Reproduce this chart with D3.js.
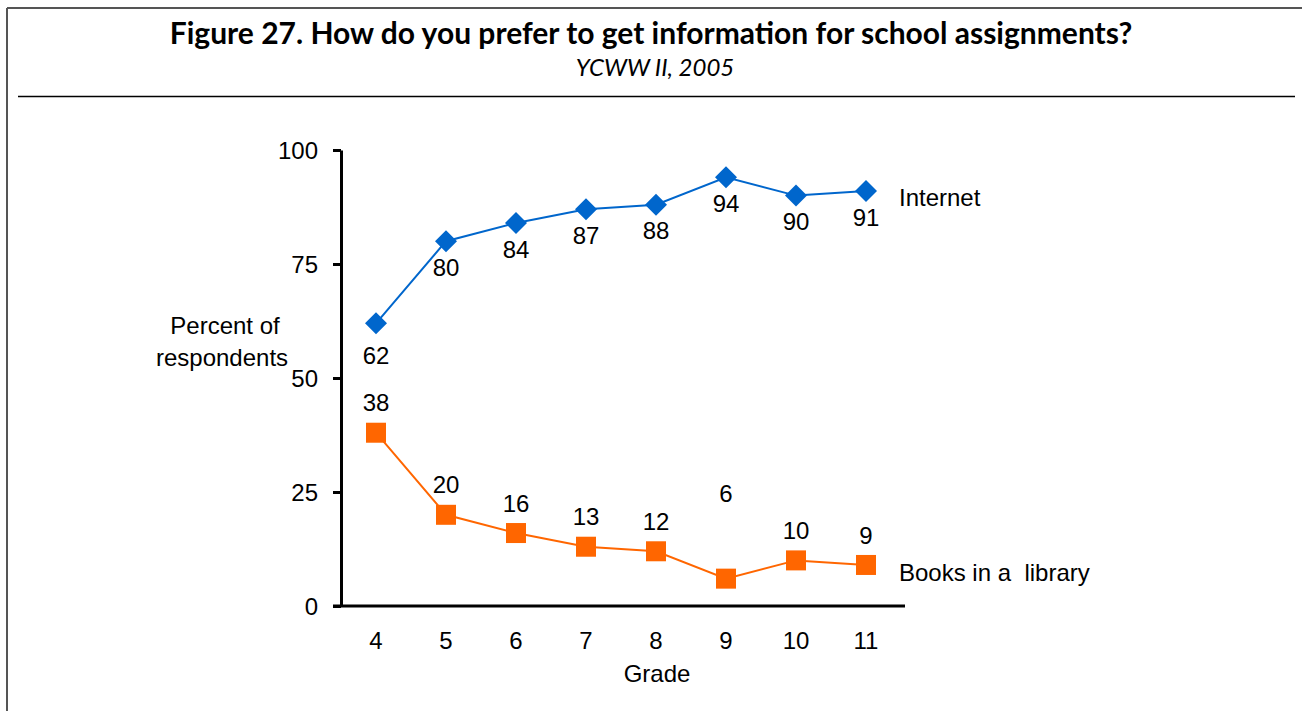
<!DOCTYPE html>
<html>
<head>
<meta charset="utf-8">
<script src="https://cdn.jsdelivr.net/npm/d3@7"></script>
<style>
  html, body { margin: 0; padding: 0; background: #fff; }
  svg { display: block; }
</style>
</head>
<body>
<svg id="chart" width="1302" height="711"></svg>
<script>
const grades = ["4", "5", "6", "7", "8", "9", "10", "11"];
const internetValues = [62, 80, 84, 87, 88, 94, 90, 91];
const libraryValues = [38, 20, 16, 13, 12, 6, 10, 9];
const yTicks = [0, 25, 50, 75, 100];
const seriesNames = ["Internet", "Books in a  library"];
const titleText = "Figure 27. How do you prefer to get information for school assignments?";
const subtitleText = "YCWW II, 2005";

const svg = d3.select("#chart");
const font = "'Liberation Sans', Arial, sans-serif";
const fs = 24;

// frame
svg.append("line").attr("x1", 7).attr("x2", 1302).attr("y1", 8).attr("y2", 8)
  .attr("stroke", "#555").attr("stroke-width", 2);
svg.append("line").attr("x1", 7).attr("x2", 7).attr("y1", 8).attr("y2", 711)
  .attr("stroke", "#555").attr("stroke-width", 2);
svg.append("line").attr("x1", 18).attr("x2", 1295).attr("y1", 96.5).attr("y2", 96.5)
  .attr("stroke", "#000").attr("stroke-width", 1.5);

// titles
svg.append("text").attr("x", 651).attr("y", 44).attr("text-anchor", "middle")
  .attr("font-family", "Lato, 'Open Sans', sans-serif").attr("font-weight", "bold")
  .attr("font-size", 30).attr("fill", "#000").text(titleText);
svg.append("text").attr("x", 655).attr("y", 76).attr("text-anchor", "middle")
  .attr("font-family", "Lato, 'Open Sans', sans-serif").attr("font-style", "italic")
  .attr("font-size", 24).attr("fill", "#000").text(subtitleText);

// scales
const x = d3.scaleBand().domain(grades).range([341, 901]).padding(0);
const cx = g => x(g) + x.bandwidth() / 2;
const y = d3.scaleLinear().domain([0, 100]).range([606, 150]);

// y axis
const yAxis = svg.append("g").attr("transform", "translate(341,0)")
  .call(d3.axisLeft(y).tickValues(yTicks).tickSize(8).tickSizeOuter(0).tickPadding(15));
yAxis.select(".domain").attr("stroke", "#000").attr("stroke-width", 3);
yAxis.selectAll(".tick line").attr("stroke", "#000").attr("stroke-width", 3);
yAxis.selectAll(".tick text").attr("font-family", font).attr("font-size", fs).attr("fill", "#000")
  .attr("dy", "0.36em");

// x axis
const xAxis = svg.append("g").attr("transform", "translate(0,606)")
  .call(d3.axisBottom(x).tickSize(0).tickPadding(26));
xAxis.select(".domain").remove();
svg.append("line").attr("x1", 333).attr("x2", 905).attr("y1", 606).attr("y2", 606)
  .attr("stroke", "#000").attr("stroke-width", 3);
xAxis.selectAll(".tick text").attr("font-family", font).attr("font-size", fs).attr("fill", "#000");

// axis titles
const yTitle = svg.append("text").attr("text-anchor", "middle")
  .attr("font-family", font).attr("font-size", fs).attr("fill", "#000");
yTitle.append("tspan").attr("x", 225).attr("y", 334).text("Percent of");
yTitle.append("tspan").attr("x", 222).attr("y", 366).text("respondents");
svg.append("text").attr("x", 657).attr("y", 682).attr("text-anchor", "middle")
  .attr("font-family", font).attr("font-size", fs).attr("fill", "#000").text("Grade");

// lines
const line = d3.line().x((d, i) => cx(grades[i])).y(d => y(d));
svg.append("path").datum(internetValues).attr("d", line)
  .attr("fill", "none").attr("stroke", "#0066CC").attr("stroke-width", 2);
svg.append("path").datum(libraryValues).attr("d", line)
  .attr("fill", "none").attr("stroke", "#FF6600").attr("stroke-width", 2);

// markers
const r = 11;
svg.selectAll(".diamond").data(internetValues).enter().append("path")
  .attr("d", `M0,${-r}L${r},0L0,${r}L${-r},0Z`)
  .attr("transform", (d, i) => `translate(${cx(grades[i])},${y(d)})`)
  .attr("fill", "#0066CC");
svg.selectAll(".square").data(libraryValues).enter().append("rect")
  .attr("x", (d, i) => cx(grades[i]) - 10).attr("y", d => y(d) - 10)
  .attr("width", 20).attr("height", 20).attr("fill", "#FF6600");

// data labels
const internetLabelDy = (d, i) => (i === 0 ? 32 : 26);
svg.selectAll(".ilab").data(internetValues).enter().append("text")
  .attr("x", (d, i) => cx(grades[i])).attr("y", (d, i) => y(d) + internetLabelDy(d, i))
  .attr("dy", "0.36em").attr("text-anchor", "middle")
  .attr("font-family", font).attr("font-size", fs).attr("fill", "#000").text(d => d);
const libraryLabelDy = (d, i) => (i === 5 ? -85 : -30);
svg.selectAll(".llab").data(libraryValues).enter().append("text")
  .attr("x", (d, i) => cx(grades[i])).attr("y", (d, i) => y(d) + libraryLabelDy(d, i))
  .attr("dy", "0.36em").attr("text-anchor", "middle")
  .attr("font-family", font).attr("font-size", fs).attr("fill", "#000").text(d => d);

// series labels
svg.append("text").attr("x", 899).attr("y", y(internetValues[7]) + 6).attr("dy", "0.36em")
  .attr("font-family", font).attr("font-size", fs).attr("fill", "#000").text(seriesNames[0]);
svg.append("text").attr("x", 899).attr("y", y(libraryValues[7]) + 7).attr("dy", "0.36em")
  .attr("font-family", font).attr("font-size", fs).attr("fill", "#000")
  .style("white-space", "pre").attr("xml:space", "preserve").text(seriesNames[1]);
</script>
</body>
</html>
